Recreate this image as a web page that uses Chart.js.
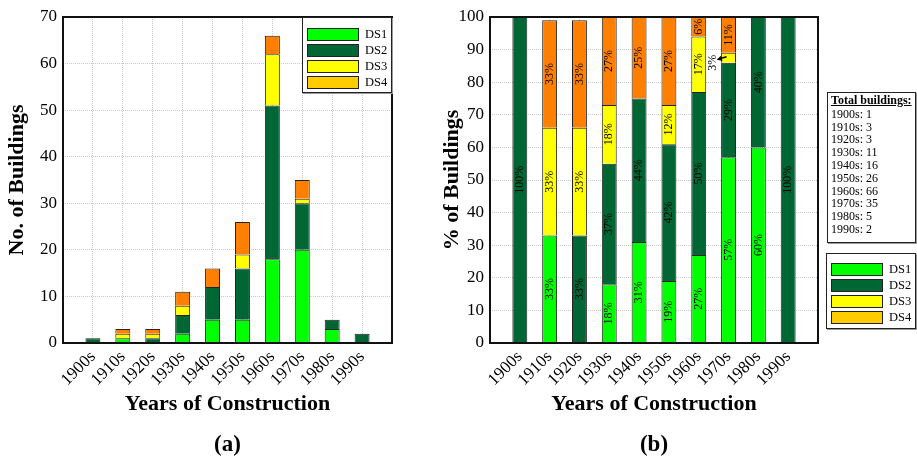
<!DOCTYPE html>
<html>
<head>
<meta charset="utf-8">
<script src="https://cdn.jsdelivr.net/npm/chart.js@4"></script>
<style>
    body {
        margin: 0;
        background: #fff;
        font-family: 'Liberation Serif', 'Times New Roman', serif;
        color: #000;
    }

    #wrap {
        position: relative;
        width: 917px;
        height: 457px;
    }

    canvas {
        position: absolute;
        top: 0;
    }

    #countChart { left: 0; }
    #shareChart { left: 436px; }

    .box {
        position: absolute;
        background: #fff;
        border: 1px solid #222;
        box-shadow: 1px 1px 0 #999;
        box-sizing: border-box;
    }

    .row {
        height: 16px;
        display: flex;
        align-items: center;
        font-size: 12.5px;
    }

    .swatch {
        width: 52px;
        height: 13px;
        border: 1px solid #222;
        box-sizing: border-box;
        margin-right: 6px;
    }

    #totals {
        left: 827px;
        top: 92px;
        width: 89px;
        height: 151px;
        padding: 1px 0 0 3px;
        font-size: 12px;
        line-height: 12.8px;
    }

    #totals b {
        display: block;
        text-decoration: underline;
        margin-bottom: 1px;
    }
</style>
</head>
<body>
<div id="wrap">
    <canvas id="countChart" width="436" height="457"></canvas>
    <canvas id="shareChart" width="481" height="457"></canvas>
    <div class="box" id="legendA" style="left:302px; top:17px; width:90px; height:76px; padding:8px 0 0 4px;"></div>
    <div class="box" id="totals"></div>
    <div class="box" id="legendB" style="left:826px; top:253px; width:90px; height:76px; padding:7px 0 0 4px;"></div>
</div>
<script>
    // buildings per decade and damage state
    var decades = ['1900s', '1910s', '1920s', '1930s', '1940s', '1950s', '1960s', '1970s', '1980s', '1990s'];
    var ds1 = [0, 1, 0, 2, 5, 5, 18, 20, 3, 0];
    var ds2 = [1, 0, 1, 4, 7, 11, 33, 10, 2, 2];
    var ds3 = [0, 1, 1, 2, 0, 3, 11, 1, 0, 0];
    var ds4 = [0, 1, 1, 3, 4, 7, 4, 4, 0, 0];

    // share of each decade (%), as labelled
    var pct1 = [0, 33, 0, 18, 31, 19, 27, 57, 60, 0];
    var pct2 = [100, 0, 33, 37, 44, 42, 50, 29, 40, 100];
    var pct3 = [0, 33, 33, 18, 0, 12, 17, 3, 0, 0];
    var pct4 = [0, 33, 33, 27, 25, 27, 6, 11, 0, 0];

    var stateNames = ['DS1', 'DS2', 'DS3', 'DS4'];
    var barColors = ['#00ff00', '#006633', '#ffff00', '#ff8000'];
    var legendColors = ['#00ff00', '#006633', '#ffff00', '#ffcc00'];

    var serif = "'Liberation Serif', 'Times New Roman', serif";
    Chart.defaults.font.family = serif;
    Chart.defaults.color = '#000';

    var totals = decades.map(function (d, i) {
        return ds1[i] + ds2[i] + ds3[i] + ds4[i];
    });

    // blank slot at each end keeps a gap between the frame and the outer bars
    var axisLabels = [''].concat(decades, ['']);
    function pad(arr) {
        return [null].concat(arr.map(function (v) { return v || null; }), [null]);
    }

    function makeSets(rows) {
        return rows.map(function (row, i) {
            return {
                label: stateNames[i],
                data: pad(row),
                backgroundColor: barColors[i],
                borderColor: '#222',
                borderWidth: 1,
                barPercentage: 0.5,
                categoryPercentage: 1
            };
        });
    }

    // black frame around the plot area
    var frame = {
        id: 'frame',
        afterDraw: function (chart) {
            var a = chart.chartArea, ctx = chart.ctx;
            ctx.save();
            ctx.strokeStyle = '#111';
            ctx.lineWidth = 2;
            ctx.strokeRect(a.left, a.top, a.right - a.left, a.bottom - a.top);
            ctx.restore();
        }
    };

    function drawUp(ctx, text, x, y) {
        ctx.save();
        ctx.translate(x, y);
        ctx.rotate(-Math.PI / 2);
        ctx.fillText(text, 0, 0);
        ctx.restore();
    }

    // rotated percentage labels inside each segment
    var percentLabels = {
        id: 'percentLabels',
        afterDatasetsDraw: function (chart) {
            var ctx = chart.ctx;
            ctx.save();
            ctx.font = '12px ' + serif;
            ctx.fillStyle = '#000';
            ctx.strokeStyle = '#000';
            ctx.textAlign = 'center';
            ctx.textBaseline = 'middle';
            chart.data.datasets.forEach(function (set, i) {
                chart.getDatasetMeta(i).data.forEach(function (bar, k) {
                    var v = set.data[k];
                    if (!v) return;
                    var p = bar.getProps(['x', 'y', 'base'], true);
                    var mid = (p.y + p.base) / 2;
                    var txt = v + '%';
                    if (p.base - p.y > 14) {
                        drawUp(ctx, txt, p.x, mid);
                    } else {
                        // too thin: put the label beside the bar with a pointer
                        drawUp(ctx, txt, p.x - 16, mid + 5);
                        var x0 = p.x - 2, y0 = mid - 1, x1 = p.x - 12, y1 = mid + 2;
                        ctx.lineWidth = 1.5;
                        ctx.beginPath();
                        ctx.moveTo(x0, y0);
                        ctx.lineTo(x1 + 3, y1 - 1);
                        ctx.stroke();
                        var ang = Math.atan2(y1 - y0, x1 - x0);
                        ctx.beginPath();
                        ctx.moveTo(x1, y1);
                        ctx.lineTo(x1 - 6 * Math.cos(ang - 0.45), y1 - 6 * Math.sin(ang - 0.45));
                        ctx.lineTo(x1 - 6 * Math.cos(ang + 0.45), y1 - 6 * Math.sin(ang + 0.45));
                        ctx.closePath();
                        ctx.fill();
                    }
                });
            });
            ctx.restore();
        }
    };

    function makeOptions(yMax, yTitle, caption, yWidth, titleTop, rightPad) {
        return {
            responsive: false,
            animation: false,
            layout: { padding: { top: 17, right: rightPad, bottom: 0, left: 0 } },
            plugins: {
                legend: { display: false },
                tooltip: { enabled: false },
                title: {
                    display: true,
                    position: 'bottom',
                    fullSize: false,
                    text: caption,
                    color: '#000',
                    font: { size: 23, weight: 'bold', lineHeight: 1 },
                    padding: { top: 15.5, bottom: 0.5 }
                }
            },
            scales: {
                x: {
                    stacked: true,
                    offset: false,
                    grid: { offset: false, color: '#c8c8c8', drawTicks: false },
                    border: { display: false, dash: [1, 1] },
                    ticks: { autoSkip: false, minRotation: 45, maxRotation: 45, padding: 4, font: { size: 17 } },
                    title: {
                        display: true,
                        text: 'Years of Construction',
                        font: { size: 22, weight: 'bold' },
                        padding: { top: 0, bottom: 0 }
                    },
                    afterFit: function (s) { s.height = 75; }
                },
                y: {
                    stacked: true,
                    min: 0,
                    max: yMax,
                    grid: { color: '#c8c8c8', drawTicks: false },
                    border: { display: false, dash: [1, 1] },
                    ticks: { stepSize: 10, padding: 6, font: { size: 17 } },
                    title: {
                        display: true,
                        text: yTitle,
                        font: { size: 22, weight: 'bold' },
                        padding: { top: titleTop, bottom: 0 }
                    },
                    afterFit: function (s) { s.width = yWidth; }
                }
            }
        };
    }

    // (a) counts
    new Chart(document.getElementById('countChart'), {
        type: 'bar',
        data: { labels: axisLabels, datasets: makeSets([ds1, ds2, ds3, ds4]) },
        options: makeOptions(70, 'No. of Buildings', '(a)', 63, 4, 44),
        plugins: [frame]
    });

    // (b) percentages
    new Chart(document.getElementById('shareChart'), {
        type: 'bar',
        data: { labels: axisLabels, datasets: makeSets([pct1, pct2, pct3, pct4]) },
        options: makeOptions(100, '% of Buildings', '(b)', 54, 3, 99),
        plugins: [frame, percentLabels]
    });

    // legends
    function fillLegend(id) {
        var el = document.getElementById(id);
        stateNames.forEach(function (name, i) {
            var row = document.createElement('div');
            row.className = 'row';
            row.innerHTML = '<span class="swatch" style="background:' + legendColors[i] + '"></span>' + name;
            el.appendChild(row);
        });
    }
    fillLegend('legendA');
    fillLegend('legendB');

    var tot = document.getElementById('totals');
    tot.innerHTML = '<b>Total buildings:</b>' + decades.map(function (d, i) {
        return d + ': ' + totals[i];
    }).join('<br>');
</script>
</body>
</html>
